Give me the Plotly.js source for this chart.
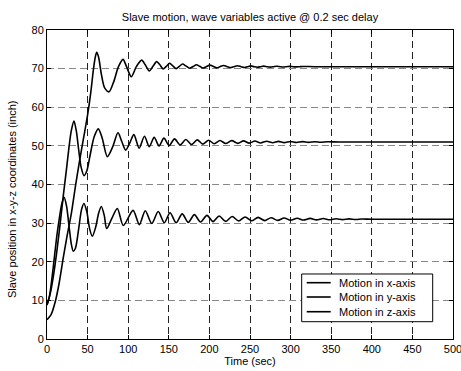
<!DOCTYPE html>
<html>
<head>
<meta charset="utf-8">
<script src="https://cdn.plot.ly/plotly-3.0.1.min.js"></script>
<style>html,body{margin:0;padding:0;background:#fff;}#chart{width:461px;height:371px;}</style>
</head>
<body>
<div id="chart"></div>
<script>
// Motion in x-axis
const tX = [0,5,10,15,20,25,30,35,40,45,50,54,57,59.5,61.2,63.5,67,71,76.4,82,88,93.6,98,103.8,110,116.6,121,126,130.5,135,139,143,147,151,155,159,163,167,171,175.5,180,184,188,192,196,200.5,205,209,213,217.5,222,226,230,234.5,239,243,247,251,255,259,263,267,271,275,279,283,287,291,295,299,303,307,311,315,330,500];
const vX = [5.0,6.3,9.5,14.5,21,27,32.5,39.5,46,52,58,64,69.5,73,74.2,73,68.5,65,64.0,66.5,70.5,72.4,70.5,67.9,70.5,72.2,71,69.4,70.6,71.8,71,69.9,70.6,71.4,70.7,70.0,70.6,71.2,70.7,70.1,70.55,71.0,70.6,70.15,70.5,70.9,70.55,70.2,70.5,70.8,70.5,70.25,70.5,70.75,70.5,70.3,70.5,70.7,70.5,70.35,70.5,70.65,70.5,70.4,70.5,70.6,70.5,70.42,70.5,70.58,70.5,70.45,70.5,70.55,70.5,70.5];

// Motion in y-axis
const tY = [0,4,8,12,16,20,24,27,30,33.2,36,39,42,45.6,49,53,58,63.2,68,74.3,81,87.4,92,96.9,102,107,113.5,120,126,132,138,144,150.5,157,164,171,178,185,192,199,206,213,220,227.5,235,242,249,256,263,270.5,278,285,292,300,307,315,322,330,337,345,360,500];
const vY = [8.8,11.8,16.5,22.5,29.5,37,44,49.5,54,56.4,54,49,44.5,42.3,43.5,47.5,52.3,54.4,52,47.2,49.8,53.4,51.2,48.9,50.8,52.9,49.4,52.5,49.8,52.2,50.0,52.0,50.1,51.8,50.25,51.65,50.35,51.55,50.45,51.45,50.55,51.4,50.6,51.35,50.65,51.3,50.7,51.25,50.75,51.2,50.8,51.17,50.83,51.14,50.86,51.1,50.9,51.07,50.93,51.05,51.0,51.0];

// Motion in z-axis
const tZ = [0,3,6,9,12,15,18,21,24,27,30,32.4,35,39,42.5,45.5,49,52.5,55.8,60,63.5,66.9,70.5,73.5,80,86.6,94,106,113.7,121,129,137,144.5,151.5,159,166.5,174,181.5,189,197,204.5,212,220,228,236,244,252,260,268,276,284,292,300,308,316,324,332,340,348,356,364,372,380,388,400,500];
const vZ = [8.8,11,15.5,21,26.5,31,34.8,36.7,34.5,29.5,24.5,22.7,23.5,28.5,33.5,35.1,33,28.5,26.6,29,32.5,34.3,32,28.6,31.3,33.8,29.4,33.3,29.6,33.2,29.9,33.0,30.1,32.7,30.1,32.4,30.2,32.2,30.3,32.0,30.4,31.85,30.45,31.7,30.55,31.6,30.6,31.5,30.65,31.4,30.7,31.33,30.75,31.27,30.8,31.22,30.83,31.18,30.86,31.14,30.9,31.1,30.93,31.06,31.0,31.0];

const seriesNames = ['Motion in x-axis','Motion in y-axis','Motion in z-axis'];
const xTicks = [0,50,100,150,200,250,300,350,400,450,500];
const yTicks = [0,10,20,30,40,50,60,70,80];
const yTitle = 'Slave position in x-y-z coordinates (inch)';

const font = 'Liberation Sans, Arial, Helvetica, sans-serif';
const lineStyle = {color:'#000', width:1.6, shape:'spline', smoothing:0.8};

const data = [[tX,vX],[tY,vY],[tZ,vZ]].map((d,i)=>({
  x:d[0], y:d[1], type:'scatter', mode:'lines', name:seriesNames[i], line:lineStyle, showlegend:false
}));

const axisCommon = {
  showline:true, linecolor:'#000', linewidth:1, mirror:'ticks',
  ticks:'inside', ticklen:4, tickcolor:'#000', tickwidth:1,
  showgrid:true, griddash:'7px,4px', zeroline:false,
  tickfont:{family:font, size:11, color:'#000'}, ticklabeloverflow:'allow'
};

// MATLAB-style boxed legend built from paper-positioned shapes and texts
const legBox = {x0:0.6273, x1:0.950, y0:0.056, y1:0.2104};
const legRows = [0.1822, 0.1359, 0.0883];
const shapes = [{type:'rect', xref:'paper', yref:'paper', x0:legBox.x0, x1:legBox.x1, y0:legBox.y0, y1:legBox.y1,
  line:{color:'#000', width:1}, fillcolor:'#fff', layer:'above'}];
const annotations = [];
legRows.forEach((y,i)=>{
  shapes.push({type:'line', xref:'paper', yref:'paper', x0:0.6397, x1:0.6988, y0:y, y1:y, line:{color:'#000', width:1.6}, layer:'above'});
  annotations.push({xref:'paper', yref:'paper', x:0.7135, y:y, xanchor:'left', yanchor:'middle', showarrow:false,
    text:seriesNames[i], font:{family:font, size:11, color:'#000'}});
});
annotations.push({xref:'paper', yref:'paper', x:-0.086, y:0.45, xanchor:'center', yanchor:'middle', textangle:-90,
  showarrow:false, text:yTitle, font:{family:font, size:11, color:'#000'}});

const layout = {
  width:461, height:371,
  margin:{l:47, r:8, t:30, b:32},
  paper_bgcolor:'#fff', plot_bgcolor:'#fff',
  font:{family:font, size:11, color:'#000'},
  title:{text:'Slave motion, wave variables active @ 0.2 sec delay', font:{family:font, size:11, color:'#000'}, x:0.5, xref:'paper', y:0.955, yref:'container', yanchor:'middle'},
  xaxis:Object.assign({}, axisCommon, {range:[0,500], tickvals:xTicks, gridcolor:'#222', gridwidth:1,
    title:{text:'Time (sec)', font:{family:font, size:11, color:'#000'}, standoff:2}}),
  yaxis:Object.assign({}, axisCommon, {range:[0,80], tickvals:yTicks, gridcolor:'#888', gridwidth:1}),
  showlegend:false,
  shapes:shapes,
  annotations:annotations
};

Plotly.newPlot('chart', data, layout, {staticPlot:true, displayModeBar:false});
</script>
</body>
</html>
